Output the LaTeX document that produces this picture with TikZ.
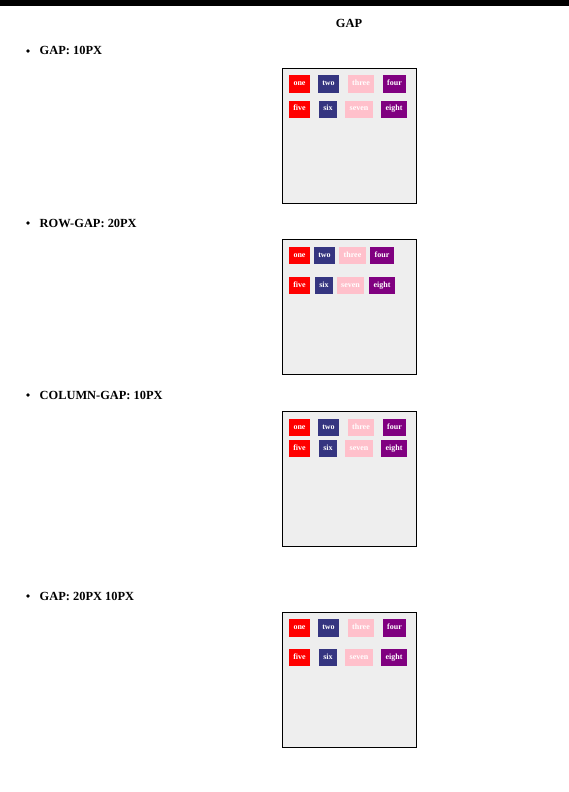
\documentclass[tikz,border=0pt]{standalone}
\usepackage{fontspec}
\setmainfont{Liberation Serif}
\usetikzlibrary{calc}
\definecolor{cellred}{HTML}{FF0000}
\definecolor{cellblue}{HTML}{353580}
\definecolor{cellpink}{HTML}{FFC0CB}
\definecolor{cellpurple}{HTML}{800080}
\definecolor{boxbg}{HTML}{EEEEEE}
\tikzset{
  gridbox/.style={draw=black, line width=0.9pt, fill=boxbg},
  cellbox/.style={inner sep=0pt, text=white, text height=4.2pt, text depth=1.2pt, font=\fontsize{8}{9}\selectfont\bfseries},
  heading/.style={anchor=base west, inner sep=0pt, font=\fontsize{12.4}{14}\selectfont\bfseries},
  bulletdot/.style={fill=black, circle, inner sep=0pt, minimum size=3.6pt}
}
\newcommand{\mycell}[7]{%
  \node[cellbox, fill=#6, minimum width={(#3-#2)*1pt}, minimum height={(#5-#4)*1pt}] (#1) at ({(#2+#3)/2},{(#4+#5)/2}) {#7};}
\begin{document}
\begin{tikzpicture}[x=1pt,y=-1pt]
\useasboundingbox (0,0) rectangle (569,792);
\fill[white] (0,0) rectangle (569,792);
\fill[black] (0,0) rectangle (569,6);
\node[anchor=base, inner sep=0pt, font=\fontsize{12.4}{14}\selectfont\bfseries] (title) at (349,28) {GAP};

% --- section 1
\node[bulletdot] (d1) at (28,51) {};
\node[heading] (h1) at (39.5,55) {GAP: 10PX};
\draw[gridbox] (282.5,68) rectangle (416.5,203);
\mycell{a1}{289}{310}{75}{92.7}{cellred}{one}
\mycell{a2}{318}{339}{75}{92.7}{cellblue}{two}
\mycell{a3}{348}{374}{75}{92.7}{cellpink}{three}
\mycell{a4}{383}{406}{75}{92.7}{cellpurple}{four}
\mycell{a5}{289}{310}{101}{117.7}{cellred}{five}
\mycell{a6}{319}{337}{101}{117.7}{cellblue}{six}
\mycell{a7}{345}{373}{101}{117.7}{cellpink}{seven}
\mycell{a8}{381}{407}{101}{117.7}{cellpurple}{eight}

% --- section 2
\node[bulletdot] (d2) at (28,223) {};
\node[heading] (h2) at (39.5,227) {ROW-GAP: 20PX};
\draw[gridbox] (282.5,239.5) rectangle (416.5,374.5);
\mycell{b1}{289}{310}{247}{264.3}{cellred}{one}
\mycell{b2}{314}{335}{247}{264.3}{cellblue}{two}
\mycell{b3}{339}{366}{247}{264.3}{cellpink}{three}
\mycell{b4}{370}{394}{247}{264.3}{cellpurple}{four}
\mycell{b5}{289}{310}{277}{294}{cellred}{five}
\mycell{b6}{315}{333}{277}{294}{cellblue}{six}
\mycell{b7}{337}{364}{277}{294}{cellpink}{seven}
\mycell{b8}{369}{395}{277}{294}{cellpurple}{eight}

% --- section 3
\node[bulletdot] (d3) at (28,395) {};
\node[heading] (h3) at (39.5,399) {COLUMN-GAP: 10PX};
\draw[gridbox] (282.5,411.5) rectangle (416.5,546.5);
\mycell{c1}{289}{310}{419}{436}{cellred}{one}
\mycell{c2}{318}{339}{419}{436}{cellblue}{two}
\mycell{c3}{348}{374}{419}{436}{cellpink}{three}
\mycell{c4}{383}{406}{419}{436}{cellpurple}{four}
\mycell{c5}{289}{310}{440}{457}{cellred}{five}
\mycell{c6}{319}{337}{440}{457}{cellblue}{six}
\mycell{c7}{345}{373}{440}{457}{cellpink}{seven}
\mycell{c8}{381}{407}{440}{457}{cellpurple}{eight}

% --- section 4
\node[bulletdot] (d4) at (28,596) {};
\node[heading] (h4) at (39.5,600) {GAP: 20PX 10PX};
\draw[gridbox] (282.5,612.5) rectangle (416.5,747.5);
\mycell{e1}{289}{310}{619}{637}{cellred}{one}
\mycell{e2}{318}{339}{619}{637}{cellblue}{two}
\mycell{e3}{348}{374}{619}{637}{cellpink}{three}
\mycell{e4}{383}{406}{619}{637}{cellpurple}{four}
\mycell{e5}{289}{310}{649}{666}{cellred}{five}
\mycell{e6}{319}{337}{649}{666}{cellblue}{six}
\mycell{e7}{345}{373}{649}{666}{cellpink}{seven}
\mycell{e8}{381}{407}{649}{666}{cellpurple}{eight}
\end{tikzpicture}
\end{document}
